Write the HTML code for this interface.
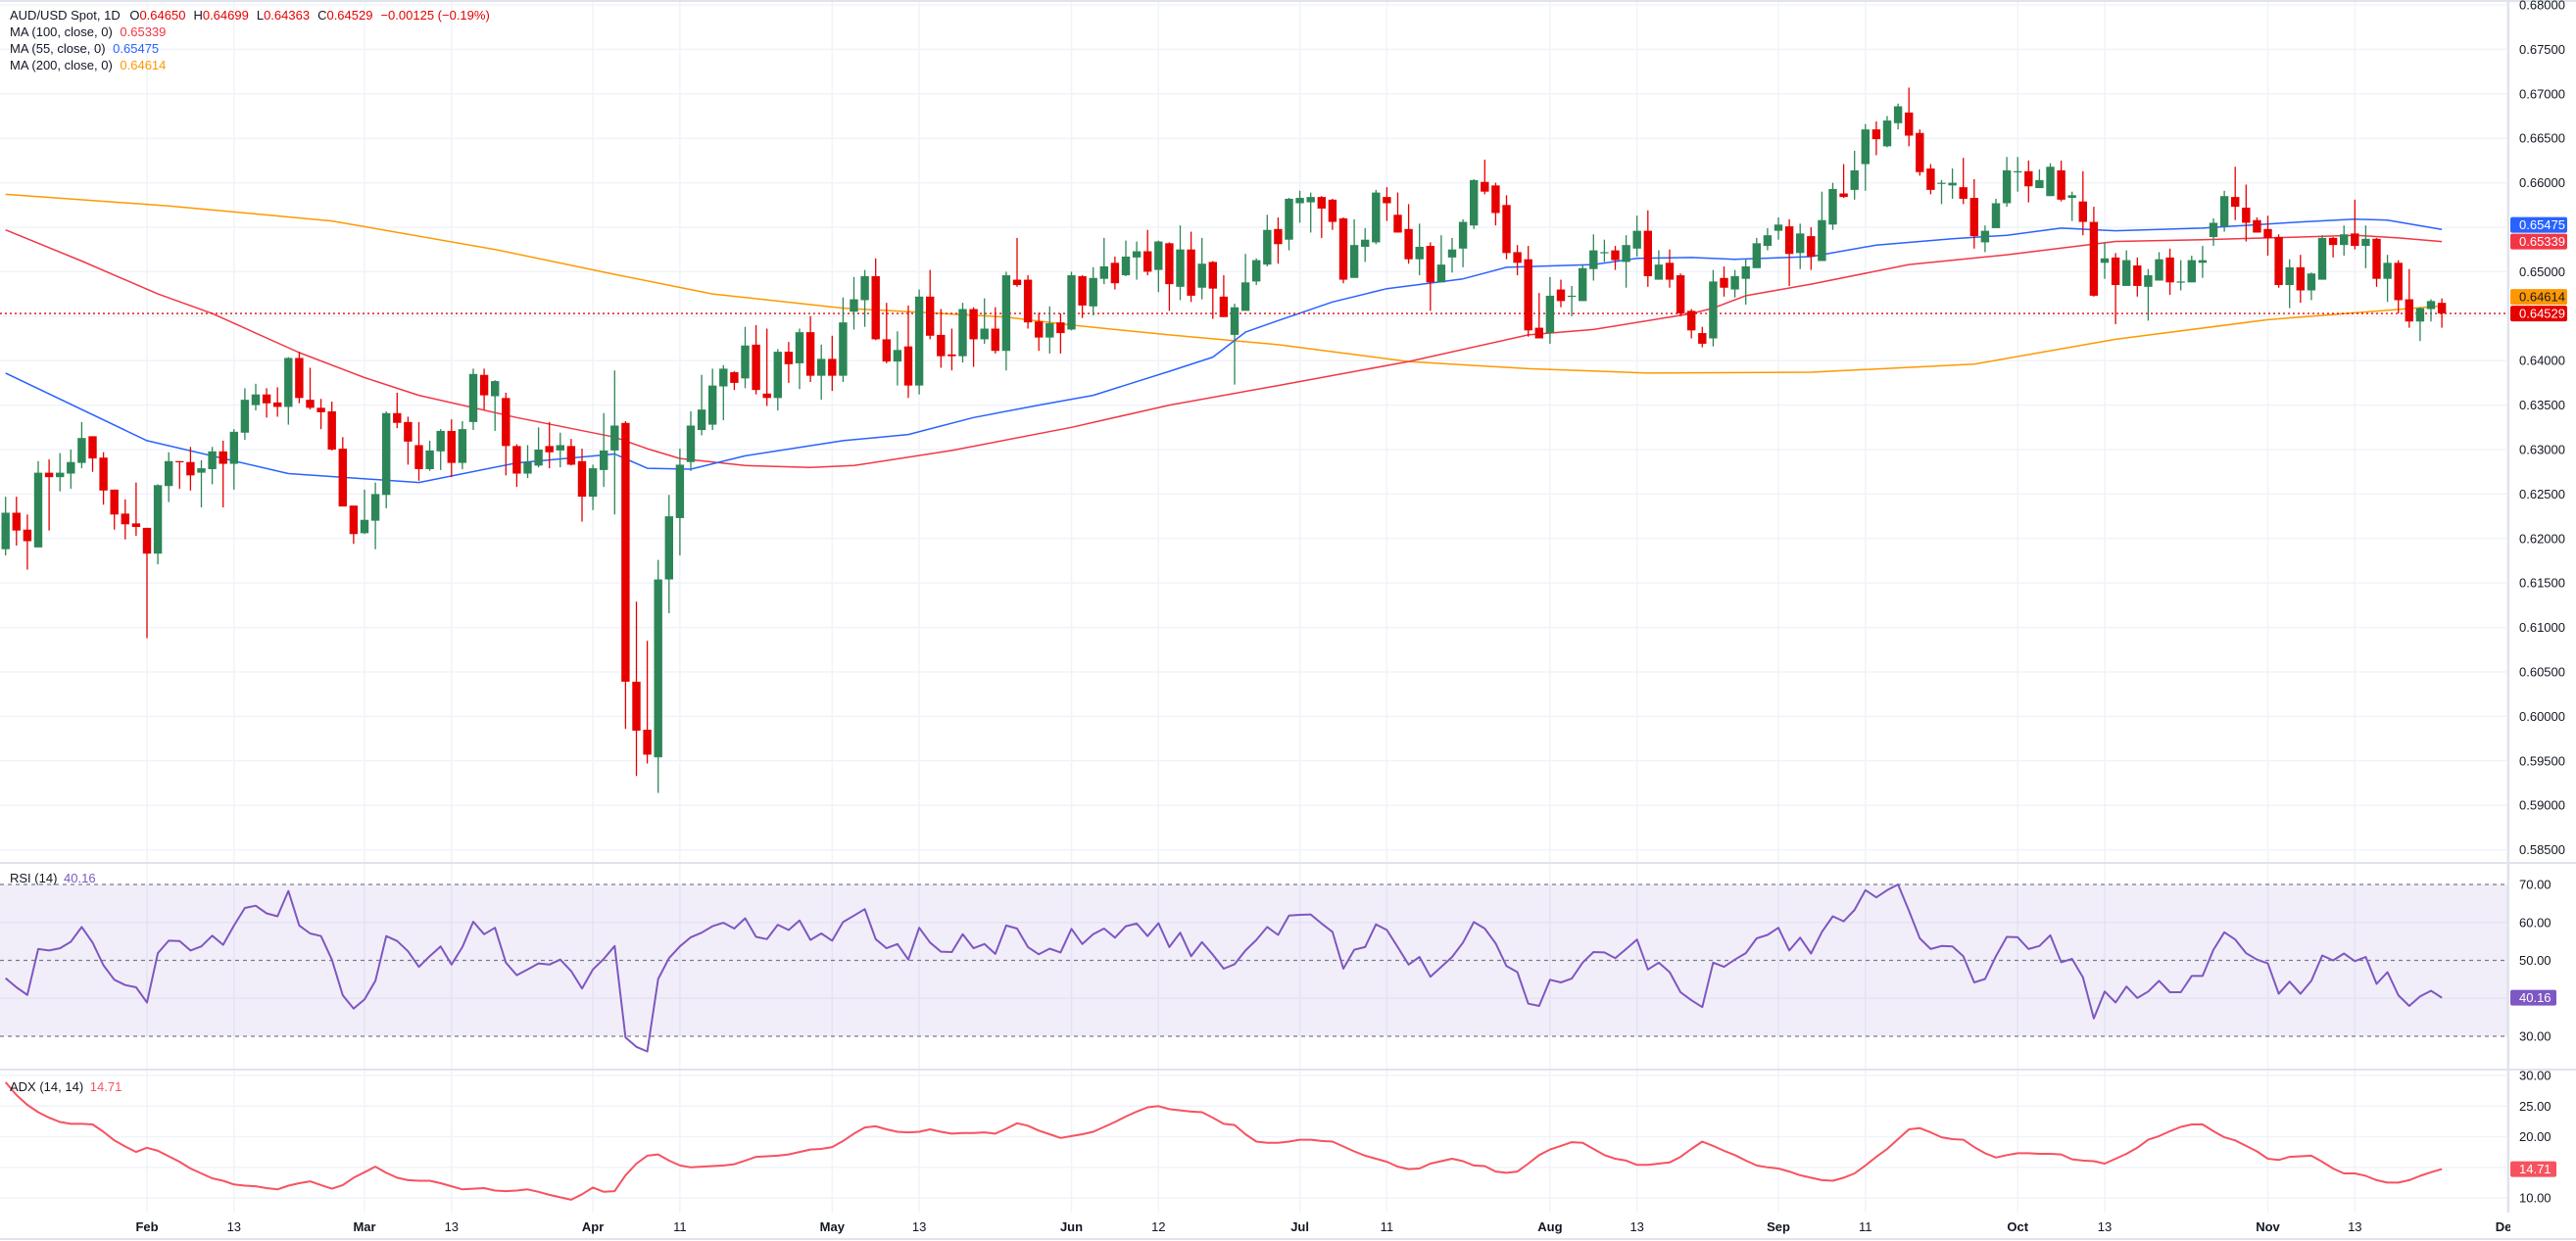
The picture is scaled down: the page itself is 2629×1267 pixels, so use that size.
<!DOCTYPE html>
<html><head><meta charset="utf-8"><style>
html,body{margin:0;padding:0;background:#fff;}
svg{display:block;font-family:"Liberation Sans",sans-serif;}
</style></head><body>
<svg id="chart" width="2629" height="1267" viewBox="0 0 2629 1267" xmlns="http://www.w3.org/2000/svg">
<defs>
<clipPath id="plotClip"><rect x="0" y="0" width="2560" height="880"/></clipPath>
<clipPath id="axisClip"><rect x="0" y="1238" width="2562" height="29"/></clipPath>
</defs>
<g id="grid"></g>
<g id="rsiBand"></g>
<g id="mas" clip-path="url(#plotClip)"></g>
<g id="candles" clip-path="url(#plotClip)"></g>
<g id="inds"></g>
<g id="axes"></g>
<g id="legend" font-size="13" fill="#131722">
<text x="10" y="20">AUD/USD Spot, 1D <tspan dx="6">O</tspan><tspan fill="#e60000">0.64650</tspan><tspan dx="8">H</tspan><tspan fill="#e60000">0.64699</tspan><tspan dx="8">L</tspan><tspan fill="#e60000">0.64363</tspan><tspan dx="8">C</tspan><tspan fill="#e60000">0.64529</tspan><tspan dx="8" fill="#e60000">−0.00125 (−0.19%)</tspan></text>
<text x="10" y="37">MA (100, close, 0) <tspan dx="4" fill="#f23645">0.65339</tspan></text>
<text x="10" y="54">MA (55, close, 0) <tspan dx="4" fill="#2962ff">0.65475</tspan></text>
<text x="10" y="71">MA (200, close, 0) <tspan dx="4" fill="#ff9800">0.64614</tspan></text>
<text x="10" y="901">RSI (14) <tspan dx="3" fill="#7e57c2">40.16</tspan></text>
<text x="10" y="1114">ADX (14, 14) <tspan dx="3" fill="#f7525f">14.71</tspan></text>
</g>
</svg>
<script>
const opens=[0.6188,0.6229,0.6210,0.6190,0.6274,0.6269,0.6273,0.6285,0.6315,0.6291,0.6255,0.6228,0.6217,0.6212,0.6183,0.6259,0.6287,0.6286,0.6274,0.6278,0.6298,0.6284,0.6319,0.6350,0.6362,0.6353,0.6348,0.6403,0.6356,0.6347,0.6343,0.6301,0.6237,0.6206,0.6220,0.6249,0.6341,0.6331,0.6305,0.6278,0.6298,0.6321,0.6285,0.6331,0.6384,0.6360,0.6358,0.6304,0.6273,0.6282,0.6304,0.6299,0.6304,0.6287,0.6247,0.6277,0.6299,0.6330,0.6039,0.5985,0.5954,0.6154,0.6223,0.6286,0.6322,0.6328,0.6371,0.6387,0.6380,0.6418,0.6363,0.6358,0.6410,0.6397,0.6432,0.6383,0.6402,0.6383,0.6455,0.6468,0.6495,0.6424,0.6399,0.6416,0.6372,0.6472,0.6429,0.6407,0.6405,0.6458,0.6424,0.6436,0.6411,0.6491,0.6491,0.6444,0.6426,0.6443,0.6435,0.6495,0.6461,0.6492,0.6510,0.6496,0.6516,0.6523,0.6502,0.6532,0.6483,0.6525,0.6482,0.6511,0.6472,0.6429,0.6456,0.6489,0.6508,0.6548,0.6536,0.6577,0.6578,0.6584,0.6581,0.6560,0.6493,0.6528,0.6533,0.6584,0.6564,0.6548,0.6514,0.6529,0.6488,0.6516,0.6526,0.6552,0.6601,0.6597,0.6575,0.6522,0.6514,0.6437,0.6431,0.6480,0.6472,0.6467,0.6503,0.6522,0.6524,0.6511,0.6526,0.6546,0.6491,0.6510,0.6496,0.6456,0.6431,0.6425,0.6493,0.6480,0.6492,0.6504,0.6529,0.6546,0.6551,0.6521,0.6540,0.6512,0.6553,0.6588,0.6592,0.6621,0.6660,0.6641,0.6667,0.6679,0.6656,0.6616,0.6599,0.6597,0.6595,0.6583,0.6533,0.6549,0.6577,0.6612,0.6613,0.6594,0.6585,0.6614,0.6583,0.6579,0.6556,0.6510,0.6516,0.6484,0.6507,0.6483,0.6490,0.6516,0.6488,0.6488,0.6510,0.6539,0.6551,0.6584,0.6572,0.6558,0.6548,0.6539,0.6485,0.6505,0.6479,0.6491,0.6538,0.6530,0.6543,0.6529,0.6537,0.6492,0.6510,0.6469,0.6444,0.6458,0.6465];
const closes=[0.6229,0.6209,0.6197,0.6274,0.6269,0.6274,0.6286,0.6313,0.6290,0.6254,0.6227,0.6216,0.6213,0.6183,0.6260,0.6287,0.6286,0.6271,0.6279,0.6298,0.6284,0.6320,0.6356,0.6362,0.6352,0.6348,0.6403,0.6358,0.6347,0.6342,0.6300,0.6236,0.6205,0.6221,0.6250,0.6341,0.6330,0.6309,0.6278,0.6299,0.6321,0.6285,0.6323,0.6385,0.6361,0.6377,0.6304,0.6273,0.6286,0.6300,0.6297,0.6305,0.6283,0.6247,0.6279,0.6299,0.6327,0.6039,0.5984,0.5957,0.6154,0.6225,0.6283,0.6327,0.6345,0.6372,0.6391,0.6375,0.6417,0.6367,0.6358,0.6410,0.6396,0.6432,0.6383,0.6402,0.6383,0.6443,0.6469,0.6495,0.6424,0.6399,0.6412,0.6372,0.6472,0.6428,0.6405,0.6405,0.6458,0.6424,0.6436,0.6411,0.6496,0.6485,0.6443,0.6426,0.6442,0.6431,0.6496,0.6462,0.6493,0.6506,0.6487,0.6517,0.6523,0.6500,0.6534,0.6486,0.6525,0.6473,0.6509,0.6481,0.6449,0.6460,0.6488,0.6513,0.6547,0.6531,0.6582,0.6583,0.6584,0.6571,0.6556,0.6491,0.6530,0.6536,0.6589,0.6577,0.6544,0.6514,0.6528,0.6488,0.6508,0.6525,0.6556,0.6603,0.6590,0.6566,0.6521,0.6510,0.6434,0.6425,0.6473,0.6467,0.6473,0.6504,0.6524,0.6522,0.6513,0.6530,0.6546,0.6495,0.6508,0.6491,0.6453,0.6434,0.6419,0.6489,0.6482,0.6495,0.6506,0.6532,0.6541,0.6553,0.6520,0.6543,0.6517,0.6558,0.6593,0.6584,0.6614,0.6660,0.6649,0.6670,0.6686,0.6653,0.6612,0.6592,0.6600,0.6600,0.6582,0.6540,0.6546,0.6577,0.6614,0.6613,0.6596,0.6603,0.6618,0.6581,0.6586,0.6556,0.6473,0.6515,0.6485,0.6513,0.6484,0.6496,0.6514,0.6488,0.6489,0.6513,0.6513,0.6555,0.6585,0.6573,0.6555,0.6544,0.6538,0.6485,0.6505,0.6479,0.6498,0.6538,0.6530,0.6542,0.6529,0.6537,0.6492,0.6510,0.6468,0.6444,0.6459,0.6467,0.6453];
const highs=[0.6247,0.6247,0.6227,0.6287,0.6289,0.6296,0.6300,0.6331,0.6315,0.6297,0.6255,0.6244,0.6263,0.6212,0.6261,0.6297,0.6287,0.6303,0.6288,0.6303,0.6310,0.6323,0.6369,0.6374,0.6369,0.6370,0.6404,0.6410,0.6392,0.6357,0.6354,0.6314,0.6237,0.6255,0.6263,0.6343,0.6364,0.6337,0.6331,0.6310,0.6323,0.6334,0.6332,0.6391,0.6391,0.6378,0.6364,0.6306,0.6305,0.6325,0.6331,0.6319,0.6312,0.6301,0.6283,0.6341,0.6389,0.6332,0.6129,0.6085,0.6176,0.6249,0.6301,0.6343,0.6384,0.6391,0.6395,0.6388,0.6438,0.6440,0.6436,0.6413,0.6421,0.6436,0.6450,0.6418,0.6428,0.6471,0.6494,0.6502,0.6515,0.6465,0.6433,0.6462,0.6480,0.6502,0.6458,0.6436,0.6465,0.6460,0.6470,0.6460,0.6500,0.6538,0.6496,0.6454,0.6461,0.6453,0.6500,0.6496,0.6505,0.6538,0.6517,0.6535,0.6534,0.6547,0.6535,0.6533,0.6552,0.6545,0.6538,0.6512,0.6496,0.6464,0.6520,0.6515,0.6564,0.6561,0.6583,0.6591,0.6589,0.6585,0.6582,0.6561,0.6559,0.6549,0.6592,0.6595,0.6589,0.6576,0.6554,0.6533,0.6541,0.6538,0.6559,0.6604,0.6626,0.6600,0.6586,0.6530,0.6529,0.6476,0.6494,0.6491,0.6484,0.6508,0.6542,0.6536,0.6529,0.6541,0.6563,0.6569,0.6524,0.6525,0.6498,0.6458,0.6438,0.6502,0.6506,0.6502,0.6514,0.6538,0.6549,0.6561,0.6559,0.6554,0.6550,0.6590,0.6600,0.6621,0.6636,0.6666,0.6669,0.6675,0.6689,0.6707,0.6660,0.6621,0.6603,0.6616,0.6628,0.6604,0.6552,0.6582,0.6629,0.6629,0.6625,0.6615,0.6622,0.6625,0.6590,0.6613,0.6573,0.6533,0.6521,0.6524,0.6516,0.6503,0.6522,0.6526,0.6513,0.6518,0.6529,0.6560,0.6591,0.6618,0.6598,0.6561,0.6563,0.6542,0.6514,0.6519,0.6499,0.6541,0.6539,0.6552,0.6581,0.6552,0.6538,0.6519,0.6513,0.6503,0.6460,0.6469,0.6470];
const lows=[0.6181,0.6192,0.6165,0.6190,0.6209,0.6253,0.6256,0.6279,0.6275,0.6238,0.6210,0.6199,0.6203,0.6088,0.6171,0.6241,0.6256,0.6254,0.6235,0.6261,0.6235,0.6255,0.6311,0.6344,0.6336,0.6337,0.6328,0.6352,0.6345,0.6323,0.6299,0.6236,0.6194,0.6205,0.6188,0.6234,0.6324,0.6283,0.6265,0.6276,0.6277,0.6269,0.6278,0.6322,0.6345,0.6321,0.6271,0.6258,0.6268,0.6280,0.6279,0.6280,0.6282,0.6219,0.6232,0.6258,0.6227,0.5986,0.5933,0.5947,0.5914,0.6116,0.6181,0.6276,0.6316,0.6322,0.6333,0.6367,0.6369,0.6362,0.6349,0.6344,0.6375,0.6368,0.6376,0.6356,0.6366,0.6376,0.6435,0.6438,0.6423,0.6397,0.6372,0.6358,0.6362,0.6424,0.6392,0.6389,0.6398,0.6393,0.6419,0.6408,0.6389,0.6483,0.6436,0.6411,0.6408,0.6408,0.6434,0.6448,0.6451,0.6486,0.6480,0.6495,0.6491,0.6496,0.6477,0.6456,0.6468,0.6466,0.6469,0.6447,0.6449,0.6373,0.6456,0.6485,0.6506,0.6509,0.6524,0.6555,0.6544,0.6538,0.6547,0.6487,0.6493,0.6511,0.6531,0.6557,0.6544,0.6509,0.6496,0.6456,0.6488,0.6499,0.6505,0.6548,0.6587,0.6552,0.6514,0.6496,0.6427,0.6425,0.6419,0.6460,0.6450,0.6467,0.6490,0.6511,0.6502,0.6482,0.6517,0.6483,0.6491,0.6482,0.6450,0.6425,0.6415,0.6416,0.6472,0.6471,0.6463,0.6504,0.6524,0.6536,0.6484,0.6503,0.6502,0.6512,0.6547,0.6583,0.6581,0.6591,0.6631,0.6640,0.6660,0.6641,0.6608,0.6587,0.6576,0.6582,0.6576,0.6526,0.6522,0.6549,0.6573,0.6590,0.6578,0.6594,0.6585,0.6579,0.6557,0.6541,0.6472,0.6492,0.6441,0.6484,0.6472,0.6445,0.6490,0.6474,0.6479,0.6488,0.6493,0.6529,0.6545,0.6558,0.6534,0.6544,0.6518,0.6482,0.6459,0.6465,0.6468,0.6491,0.6516,0.6518,0.6525,0.6504,0.6483,0.6466,0.6453,0.6437,0.6422,0.6444,0.6437];
const rsiValues=[45.3,42.9,40.9,53.0,52.6,53.2,54.9,58.8,54.7,48.7,44.9,43.5,42.9,38.9,51.9,55.2,55.1,52.6,53.7,56.5,54.1,59.2,63.8,64.4,62.4,61.6,68.3,59.2,57.1,56.4,50.2,40.8,37.3,39.7,44.6,56.4,55.1,52.4,48.3,51.1,53.7,48.9,53.5,60.2,56.9,58.6,49.4,46.1,47.6,49.2,48.9,50.2,47.2,42.6,47.6,50.4,53.8,29.7,27.2,26.0,45.1,50.6,53.7,56.1,57.3,59.0,59.9,58.4,61.1,56.2,55.6,59.4,58.0,60.5,55.4,57.1,55.2,60.1,61.8,63.5,55.6,53.2,54.3,50.2,58.6,54.7,52.3,52.2,56.9,53.2,54.3,51.7,59.2,58.4,53.5,51.6,53.1,52.1,58.3,54.3,56.9,58.4,56.0,59.0,59.7,56.4,59.8,53.5,57.3,51.1,54.8,51.5,47.8,49.0,52.6,55.4,58.8,56.7,61.8,62.0,62.1,59.7,57.5,47.8,52.8,53.5,59.5,58.0,53.5,48.9,50.9,45.7,48.3,50.9,54.7,60.1,58.4,54.5,48.5,46.9,38.6,38.0,44.9,44.2,45.2,49.4,52.2,52.1,50.6,53.0,55.5,47.6,49.4,46.9,41.6,39.5,37.7,49.4,48.3,50.2,51.9,55.8,56.7,58.6,52.6,56.0,51.8,57.5,61.6,60.3,63.3,68.5,66.6,68.5,70.0,63.1,55.8,53.0,53.8,53.7,51.1,44.2,45.1,51.1,56.2,56.1,53.0,53.8,56.6,49.5,50.4,45.5,34.7,41.8,38.9,43.1,40.1,41.8,44.6,41.6,41.6,45.9,45.9,52.8,57.4,55.5,51.9,50.2,49.2,41.2,44.4,41.2,44.6,51.3,50.0,51.8,49.8,50.9,43.8,46.9,40.8,38.0,40.5,42.0,40.16];
const adxValues=[28.9,26.8,25.2,24.0,23.1,22.4,22.1,22.1,22.0,20.8,19.4,18.4,17.5,18.2,17.7,16.8,15.9,14.8,14.0,13.2,12.8,12.2,12.0,11.9,11.6,11.4,12.0,12.4,12.7,12.1,11.5,12.1,13.3,14.2,15.1,14.1,13.3,12.9,12.8,12.8,12.4,11.9,11.4,11.5,11.6,11.2,11.1,11.2,11.4,11.0,10.5,10.1,9.7,10.6,11.7,11.0,11.1,13.7,15.6,16.9,17.1,16.1,15.3,15.0,15.1,15.2,15.3,15.5,16.1,16.7,16.8,16.9,17.1,17.5,17.9,18.0,18.3,19.3,20.5,21.5,21.7,21.2,20.8,20.7,20.8,21.2,20.8,20.5,20.6,20.6,20.7,20.5,21.3,22.2,21.8,21.0,20.4,19.8,20.1,20.4,20.8,21.6,22.4,23.3,24.1,24.8,25.0,24.5,24.3,24.1,24.0,23.1,22.1,21.9,20.4,19.2,19.0,19.0,19.2,19.5,19.5,19.3,19.2,18.4,17.6,16.9,16.4,15.9,15.1,14.7,14.8,15.6,16.0,16.4,16.0,15.3,15.2,14.3,14.1,14.3,15.6,17.0,17.9,18.5,19.1,19.0,18.0,17.0,16.4,16.1,15.4,15.4,15.6,15.8,16.7,18.0,19.2,18.5,17.7,17.0,16.1,15.3,15.0,14.8,14.3,13.7,13.3,12.9,12.8,13.3,14.0,15.3,16.7,18.0,19.6,21.2,21.4,20.7,19.9,19.6,19.5,18.3,17.3,16.6,17.0,17.3,17.3,17.2,17.2,17.1,16.3,16.1,16.0,15.6,16.4,17.2,18.2,19.5,20.1,20.9,21.6,22.0,22.0,20.9,19.9,19.4,18.5,17.6,16.4,16.2,16.7,16.8,16.9,15.9,14.8,14.0,14.0,13.6,12.9,12.5,12.5,12.9,13.6,14.2,14.71];
const ma55Idx=[0,13,26,38,47,56,59,63,68,77,83,89,95,100,107,111,114,117,122,127,134,138,146,150,155,159,166,172,179,184,189,194,202,211,216,219,224];
const ma55Values=[0.6386,0.6310,0.6273,0.6263,0.6285,0.6295,0.6279,0.6278,0.6293,0.6310,0.6317,0.6336,0.6350,0.6361,0.6388,0.6404,0.6432,0.6445,0.6466,0.6481,0.6492,0.6505,0.6508,0.6515,0.6516,0.6514,0.6517,0.6530,0.6537,0.6541,0.6549,0.6546,0.6549,0.6556,0.6559,0.6558,0.65475];
const ma100Idx=[0,7,14,19,27,33,38,47,56,59,62,68,74,78,87,98,107,117,129,140,146,155,157,160,166,175,184,194,202,211,216,220,224];
const ma100Values=[0.6547,0.6512,0.6475,0.6453,0.6409,0.6381,0.6361,0.6336,0.6314,0.6301,0.6290,0.6282,0.6280,0.6282,0.6299,0.6325,0.6350,0.6372,0.6399,0.6429,0.6435,0.6453,0.6459,0.6473,0.6486,0.6508,0.6519,0.6534,0.6536,0.6539,0.6541,0.6538,0.65339];
const ma200Idx=[0,15,30,45,56,65,77,92,98,107,117,129,140,151,166,181,194,208,224];
const ma200Values=[0.6587,0.6574,0.6557,0.6525,0.6497,0.6475,0.6459,0.6449,0.6440,0.6429,0.6418,0.6399,0.6391,0.6386,0.6387,0.6396,0.6424,0.6446,0.64614];
const priceTicks=[0.585,0.59,0.595,0.6,0.605,0.61,0.615,0.62,0.625,0.63,0.635,0.64,0.645,0.65,0.655,0.66,0.665,0.67,0.675,0.68];
const rsiTicks=[70,60,50,40,30];
const adxTicks=[30,25,20,15,10];
const dateLabels=["Feb","13","Mar","13","Apr","11","May","13","Jun","12","Jul","11","Aug","13","Sep","11","Oct","13","Nov","13","Dec"];
const dateIdx=[13,21,33,41,54,62,76,84,98,106,119,127,142,150,163,171,185,193,208,216,230];

const NS="http://www.w3.org/2000/svg";
const xOf=i=>5.7+11.1*i;
const yPrice=p=>5+(0.68-p)*9080;
const yRsi=v=>903+(70-v)*3.875;
const yAdx=v=>1098+(30-v)*6.25;
function mk(parent,tag,attrs){const e=document.createElementNS(NS,tag);for(const k in attrs)e.setAttribute(k,attrs[k]);parent.appendChild(e);return e;}
const grid=document.getElementById('grid');
const axes=document.getElementById('axes');
const GC="#f0f3fa";
priceTicks.forEach(p=>{const l=mk(grid,'line',{x1:0,x2:2560,y1:yPrice(p),y2:yPrice(p),stroke:GC,'stroke-width':1.5});

});
[60,40].forEach(v=>{const l=mk(grid,'line',{x1:0,x2:2560,y1:yRsi(v),y2:yRsi(v),stroke:GC,'stroke-width':1.5});

});
adxTicks.forEach(v=>{const l=mk(grid,'line',{x1:0,x2:2560,y1:yAdx(v),y2:yAdx(v),stroke:GC,'stroke-width':1.5});

});
dateIdx.forEach(i=>{const l=mk(grid,'line',{x1:xOf(i),x2:xOf(i),y1:0,y2:1238,stroke:GC,'stroke-width':1.5});

});
const band=document.getElementById('rsiBand');
const br=mk(band,'rect',{x:0,y:yRsi(70),width:2560,height:yRsi(30)-yRsi(70),fill:'rgba(126,87,194,0.1)'});


[70,50,30].forEach(v=>{const l=mk(band,'line',{x1:0,x2:2560,y1:yRsi(v),y2:yRsi(v),stroke:'#787b86','stroke-width':1.2,'stroke-dasharray':'4,4'});

});
const mas=document.getElementById('mas');
function maLine(idx,vals,color,name){let d='';idx.forEach((i,k)=>{d+=(k?'L':'M')+xOf(i).toFixed(1)+','+yPrice(vals[k]).toFixed(1);});
const p=mk(mas,'path',{d:d,fill:'none',stroke:color,'stroke-width':1.5,'stroke-linejoin':'round'});

}
maLine(ma200Idx,ma200Values,'#ff9800','ma200-line');
maLine(ma100Idx,ma100Values,'#f23645','ma100-line');
maLine(ma55Idx,ma55Values,'#2962ff','ma55-line');
const lp=mk(mas,'line',{x1:0,x2:2560,y1:yPrice(closes[closes.length-1]),y2:yPrice(closes[closes.length-1]),stroke:'#e60000','stroke-width':1.3,'stroke-dasharray':'2,3'});


const cg=document.getElementById('candles');
for(let i=0;i<closes.length;i++){
 const o=opens[i],c=closes[i],up=c>=o,col=up?'#2d8657':'#e60000';
 const h=Math.max(highs[i],o,c),l=Math.min(lows[i],o,c);const x=xOf(i);
 const g=mk(cg,'g',{});
 
 
 mk(g,'line',{x1:x,x2:x,y1:yPrice(h),y2:yPrice(l),stroke:col,'stroke-width':1.3});
 const yt=yPrice(Math.max(o,c)),yb=yPrice(Math.min(o,c));
 mk(g,'rect',{x:x-4.2,y:yt,width:8.4,height:Math.max(1.2,yb-yt),fill:col});
}
const ig=document.getElementById('inds');
let d='';rsiValues.forEach((v,i)=>{d+=(i?'L':'M')+xOf(i).toFixed(1)+','+yRsi(v).toFixed(1);});
const rl=mk(ig,'path',{d:d,fill:'none',stroke:'#7e57c2','stroke-width':2,'stroke-linejoin':'round'});


d='';adxValues.forEach((v,i)=>{d+=(i?'L':'M')+xOf(i).toFixed(1)+','+yAdx(v).toFixed(1);});
const al=mk(ig,'path',{d:d,fill:'none',stroke:'#f7525f','stroke-width':2,'stroke-linejoin':'round'});


[[0,881,2629,881],[0,1092,2629,1092],[0,1265,2629,1265],[2560,0,2560,1238],[0,1,2629,1]].forEach(s=>{const l=mk(axes,'line',{x1:s[0],y1:s[1],x2:s[2],y2:s[3],stroke:'#e0e3eb','stroke-width':2});

});
// badges (sorted bottom-to-top, shifted up to avoid overlap)
const badges=[[0.64529,'#e60000','#fff','price-badge'],[0.64614,'#ff9800','#131722','ma200-badge'],[0.65339,'#f23645','#fff','ma100-badge'],[0.65475,'#2962ff','#fff','ma55-badge']];
const badgeYs=[];let prevY=1e9;
badges.forEach(b=>{let y=yPrice(b[0]);if(prevY-y<17)y=prevY-17;badgeYs.push(y);prevY=y;});
priceTicks.forEach(p=>{const y=yPrice(p);if(badgeYs.some(by=>Math.abs(by-y)<12))return;
const t=mk(axes,'text',{x:2571,y:y+4.5,'font-size':13,fill:'#131722'});t.textContent=p.toFixed(5);

});
badges.forEach((b,k)=>{const y=badgeYs[k];
const r=mk(axes,'rect',{x:2562,y:y-8,width:58,height:16,rx:2,fill:b[1]});


const t=mk(axes,'text',{x:2571,y:y+4.5,'font-size':13,fill:b[2]});t.textContent=b[0].toFixed(5);

});
rsiTicks.forEach(v=>{const y=yRsi(v);if(Math.abs(y-yRsi(40.16))<12)return;
const t=mk(axes,'text',{x:2571,y:y+4.5,'font-size':13,fill:'#131722'});t.textContent=v.toFixed(2);

});
adxTicks.forEach(v=>{const y=yAdx(v);if(Math.abs(y-yAdx(14.71))<12)return;
const t=mk(axes,'text',{x:2571,y:y+4.5,'font-size':13,fill:'#131722'});t.textContent=v.toFixed(2);

});
[[rsiValues[rsiValues.length-1],yRsi,'#7e57c2','rsi-badge'],[adxValues[adxValues.length-1],yAdx,'#f7525f','adx-badge']].forEach(b=>{const y=b[1](b[0]);
const r=mk(axes,'rect',{x:2562,y:y-8,width:47,height:16,rx:2,fill:b[2]});


const t=mk(axes,'text',{x:2571,y:y+4.5,'font-size':13,fill:'#fff'});t.textContent=b[0].toFixed(2);

});
const dg=mk(axes,'g',{'clip-path':'url(#axisClip)'});
dateLabels.forEach((s,k)=>{const bold=isNaN(+s);
const t=mk(dg,'text',{x:xOf(dateIdx[k]),y:1257,'font-size':13,'text-anchor':'middle',fill:'#131722','font-weight':bold?'bold':'normal'});t.textContent=s;

});
</script>
</body></html>
